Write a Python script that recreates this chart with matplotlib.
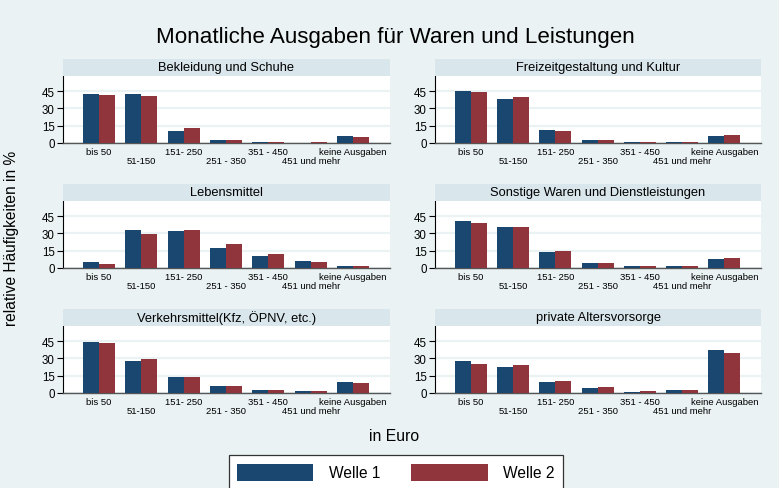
import matplotlib
matplotlib.use("Agg")
import matplotlib.pyplot as plt
import numpy as np

plt.rcParams['font.family'] = ['Liberation Sans', 'DejaVu Sans']

categories = ["bis 50", "51-150", "151- 250", "251 - 350", "351 - 450",
              "451 und mehr", "keine Ausgaben"]
titles = ["Bekleidung und Schuhe", "Freizeitgestaltung und Kultur",
          "Lebensmittel", "Sonstige Waren und Dienstleistungen",
          "Verkehrsmittel(Kfz, ÖPNV, etc.)", "private Altersvorsorge"]

welle1_bekleidung = [42.4, 42.2, 10.3, 2.6, 0.6, 0.3, 5.7]
welle2_bekleidung = [41.3, 40.5, 12.8, 2.6, 0.6, 0.6, 5.1]
welle1_freizeit = [45.3, 38.5, 11.4, 2.6, 0.6, 0.6, 6.0]
welle2_freizeit = [43.9, 39.6, 10.0, 2.6, 1.1, 0.6, 6.6]
welle1_lebensmittel = [4.8, 33.3, 31.6, 17.1, 10.3, 6.0, 1.7]
welle2_lebensmittel = [3.4, 29.6, 32.5, 20.5, 12.3, 4.8, 1.7]
welle1_sonstige = [41.0, 35.3, 13.7, 4.3, 1.7, 1.7, 7.7]
welle2_sonstige = [39.0, 35.3, 14.5, 4.6, 1.7, 1.7, 8.5]
welle1_verkehr = [44.2, 27.4, 14.0, 6.0, 2.6, 1.7, 9.4]
welle2_verkehr = [43.6, 29.6, 13.7, 5.7, 2.3, 1.7, 8.5]
welle1_alter = [27.9, 22.5, 9.4, 4.0, 0.9, 2.6, 37.6]
welle2_alter = [25.4, 24.2, 10.5, 4.8, 2.0, 2.6, 34.8]

welle1 = [welle1_bekleidung, welle1_freizeit, welle1_lebensmittel,
          welle1_sonstige, welle1_verkehr, welle1_alter]
welle2 = [welle2_bekleidung, welle2_freizeit, welle2_lebensmittel,
          welle2_sonstige, welle2_verkehr, welle2_alter]
yticks = [0, 15, 30, 45]
series_labels = ["Welle 1", "Welle 2"]

BG = "#EAF2F3"
HEAD = "#D9E6EB"
BLUE = "#1A476F"
RED = "#90353B"

W, H = 779, 489
fig = plt.figure(figsize=(W / 100, H / 100), dpi=100, facecolor=BG)

col_x = [(63, 390), (435, 761)]
row_y = [(77, 144), (202, 269), (327, 394)]
head_h = 17

x = np.arange(len(categories))
bw = 0.378
handles = None
for i in range(6):
    r, c = divmod(i, 2)
    x0, x1 = col_x[c]
    y0, y1 = row_y[r]
    ax = fig.add_axes([x0 / W, 1 - y1 / H, (x1 - x0) / W, (y1 - y0) / H])
    ax.set_facecolor("white")
    b1 = ax.bar(x - bw / 2, welle1[i], bw, color=BLUE, zorder=3)
    b2 = ax.bar(x + bw / 2, welle2[i], bw, color=RED, zorder=3)
    handles = [b1, b2]
    ax.set_xlim(-0.85, 6.87)
    ax.set_ylim(0, 58)
    ax.set_yticks(yticks)
    ax.set_yticklabels([str(v) for v in yticks], fontsize=8.3)
    ax.yaxis.grid(True, color=BG, linewidth=1.6, zorder=0)
    ax.set_axisbelow(True)
    ax.set_xticks(x[::2])
    ax.set_xticklabels(categories[::2], fontsize=6.8)
    ax.set_xticks(x[1::2], minor=True)
    ax.set_xticklabels(categories[1::2], minor=True, fontsize=6.8)
    ax.tick_params(axis='x', which='major', length=0, pad=3)
    ax.tick_params(axis='x', which='minor', length=0, pad=9.5)
    ax.tick_params(axis='y', length=4, width=0.8, pad=2, colors='black')
    for s in ["top", "right"]:
        ax.spines[s].set_visible(False)
    ax.spines["left"].set_color("black")
    ax.spines["left"].set_linewidth(0.8)
    ax.spines["bottom"].set_color("#555555")
    ax.spines["bottom"].set_linewidth(1.0)

    hax = fig.add_axes([x0 / W, 1 - y0 / H, (x1 - x0) / W, head_h / H])
    hax.set_facecolor(HEAD)
    hax.set_xticks([]); hax.set_yticks([])
    for s in hax.spines.values():
        s.set_visible(False)
    hax.text(0.5, 0.5, titles[i], ha='center', va='center', fontsize=9.3,
             transform=hax.transAxes)

fig.text(395 / W, 1 - 37 / H, "Monatliche Ausgaben für Waren und Leistungen",
         ha='center', va='center', fontsize=16.1)
fig.text(12 / W, 1 - 238 / H, "relative Häufigkeiten in %", rotation=90,
         ha='center', va='center', fontsize=11.2)
fig.text(394 / W, 1 - 437 / H, "in Euro", ha='center', va='center', fontsize=11.3)

leg = fig.legend(handles, series_labels, loc='upper center',
                 bbox_to_anchor=(396 / W, 1 - 456 / H), ncol=2, fontsize=11.2,
                 frameon=True, fancybox=False, edgecolor='#333333',
                 framealpha=1, handlelength=4.9, handleheight=1.35,
                 handletextpad=1.0, columnspacing=2.0, borderpad=0.55,
                 borderaxespad=0)
leg.get_frame().set_linewidth(0.9)

fig.savefig("out.png", dpi=100, facecolor=BG)
